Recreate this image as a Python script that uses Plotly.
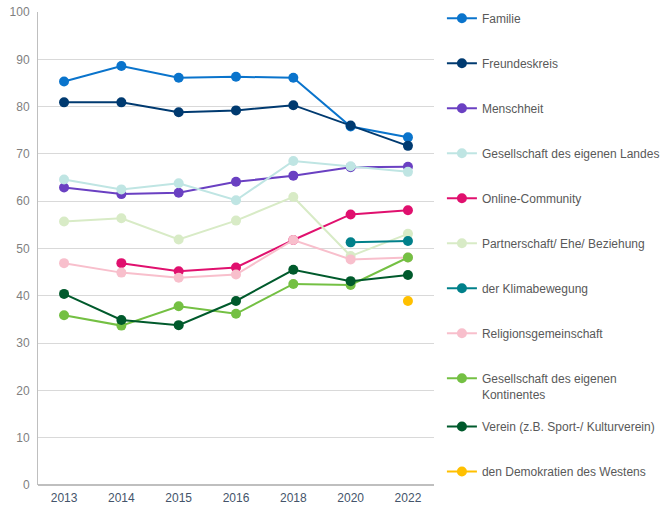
import plotly.graph_objects as go

years = ["2013", "2014", "2015", "2016", "2018", "2020", "2022"]

familie = [85.3, 88.6, 86.1, 86.3, 86.1, 75.8, 73.5]
freundeskreis = [80.9, 80.9, 78.8, 79.2, 80.3, 76.0, 71.7]
menschheit = [62.9, 61.5, 61.8, 64.1, 65.4, 67.2, 67.3]
ges_landes = [64.6, 62.5, 63.8, 60.2, 68.5, 67.4, 66.2]
online = [None, 46.9, 45.2, 46.0, 51.8, 57.2, 58.1]
partnerschaft = [55.7, 56.4, 51.9, 55.9, 60.9, 48.4, 53.1]
klima = [None, None, None, None, None, 51.3, 51.6]
religion = [46.9, 44.9, 43.8, 44.5, 51.8, 47.7, 48.1]
ges_kontinent = [35.9, 33.7, 37.8, 36.2, 42.5, 42.3, 48.1]
verein = [40.4, 34.9, 33.8, 38.9, 45.5, 43.1, 44.4]
demokratien = [None, None, None, None, None, None, 38.9]

series = [
    ("Familie", familie, "#0a74cc"),
    ("Freundeskreis", freundeskreis, "#003a70"),
    ("Menschheit", menschheit, "#6a40c2"),
    ("Gesellschaft des eigenen Landes", ges_landes, "#bfe5e3"),
    ("Online-Community", online, "#e0106e"),
    ("Partnerschaft/ Ehe/ Beziehung", partnerschaft, "#d8ebc6"),
    ("der Klimabewegung", klima, "#00808a"),
    ("Religionsgemeinschaft", religion, "#f8bfcc"),
    ("Gesellschaft des eigenen<br>Kontinentes", ges_kontinent, "#74c043"),
    ("Verein (z.B. Sport-/ Kulturverein)", verein, "#005a2c"),
    ("den Demokratien des Westens", demokratien, "#ffc000"),
]

fig = go.Figure()
for i, (name, vals, col) in enumerate(series):
    fig.add_trace(go.Scatter(
        x=years, y=vals, name=name, mode="lines+markers",
        line=dict(color=col, width=2),
        marker=dict(color=col, size=10),
        legendgroup=str(i),
        # last two entries go in a second legend so the wrapped label doesn't push them down
        legend="legend2" if i >= 9 else "legend",
        connectgaps=False,
    ))

leg_style = dict(
    xanchor="left", yanchor="top", tracegroupgap=26, valign="top", maxheight=1000,
    font=dict(size=12, color="#595959"),
)

fig.update_layout(
    width=669, height=512,
    margin=dict(l=38, r=235, t=12, b=27, autoexpand=False),
    plot_bgcolor="white", paper_bgcolor="white",
    font=dict(family="Liberation Sans, Arial", size=12, color="#595959"),
    legend=dict(x=1.02, y=1.017, **leg_style),
    legend2=dict(x=1.02, y=0.154, **leg_style),
    xaxis=dict(
        type="category", showgrid=False, showline=False, ticks="",
        ticklabelstandoff=4,
        tickfont=dict(color="#44546a", size=12),
    ),
    yaxis=dict(
        range=[0, 100], dtick=10, showgrid=True, gridcolor="#d9d9d9", gridwidth=1,
        showline=True, linecolor="#bfbfbf", linewidth=1, zeroline=True,
        zerolinecolor="#bfbfbf", ticks="", ticklabelstandoff=5,
        tickfont=dict(color="#7f7f7f", size=12),
    ),
)

# drop the default 8px body margin so the figure fills the window
fig.write_html("out.html", config={"displayModeBar": False},
               post_script="document.body.style.margin='0';")
